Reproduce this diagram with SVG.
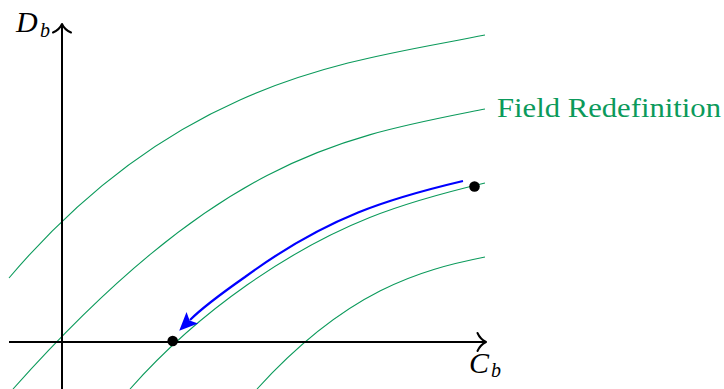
<svg xmlns="http://www.w3.org/2000/svg" width="724" height="389" viewBox="0 0 724 389">
<style>
.axis{fill:none;stroke:#000;stroke-width:2}
.tip{fill:none;stroke:#000;stroke-width:2;stroke-linecap:round;stroke-linejoin:round}
.curve{fill:none;stroke:#0b9a5b;stroke-width:1.1}
.flow{fill:none;stroke:#0000ff;stroke-width:2.2}
.dot{fill:#000}
.math{font-family:"Liberation Serif","DejaVu Serif",serif;font-style:italic;fill:#000}
.lbl{font-family:"Liberation Serif","DejaVu Serif",serif;fill:#0b9a5b}
</style>
<defs>
<marker id="bluehead" markerUnits="userSpaceOnUse" markerWidth="24" markerHeight="24" viewBox="-4 -10 22 20" refX="0" refY="0" orient="auto">
<path d="M-3,-7.5 L14,0 L-3,7.5 L0.5,0 Z" fill="#0000ff"/>
</marker>
</defs>
<rect width="724" height="389" fill="#fff"/>
<g id="connectors">
<path id="curve1" class="curve" d="M9,278 C180,76 355,61 485,35"/>
<path id="curve2" class="curve" d="M13,389 C223,153.8 345,137 485,109"/>
<path id="curve3" class="curve" d="M130,389 C169,345 208,312.3 247,285 C337,222 405,202 485,183"/>
<path id="curve4" class="curve" d="M257,389 C347,290 420,270 485,257"/>
<path id="flow" class="flow" d="M463,181 C391,198 328,216 245,277 C225,291 205,305 190,320" marker-end="url(#bluehead)"/>
</g>
<g id="axes">
<path class="axis" d="M9,342 H485"/>
<path class="tip" d="M477.5,333 C479.5,337.5 483,340.5 486,342 C483,343.5 479.5,346.5 477.5,351"/>
<path class="axis" d="M62,389 V25"/>
<path class="tip" d="M53,32.5 C57.5,30.5 60.5,27.5 62,24 C63.5,27.5 66.5,30.5 71,32.5"/>
</g>
<g id="label-Db"><text class="math" x="16" y="32" font-size="30">D</text><text class="math" x="40" y="37" font-size="20">b</text></g>
<g id="label-Cb"><text class="math" x="469" y="373" font-size="30">C</text><text class="math" x="491" y="377" font-size="20">b</text></g>
<g id="label-field"><text class="lbl" x="497" y="117" font-size="27" textLength="224" lengthAdjust="spacingAndGlyphs">Field Redefinition</text></g>
<g id="point-start"><circle class="dot" cx="474.5" cy="186.5" r="5.3"/></g>
<g id="point-end"><circle class="dot" cx="172.7" cy="341" r="5.3"/></g>
</svg>
